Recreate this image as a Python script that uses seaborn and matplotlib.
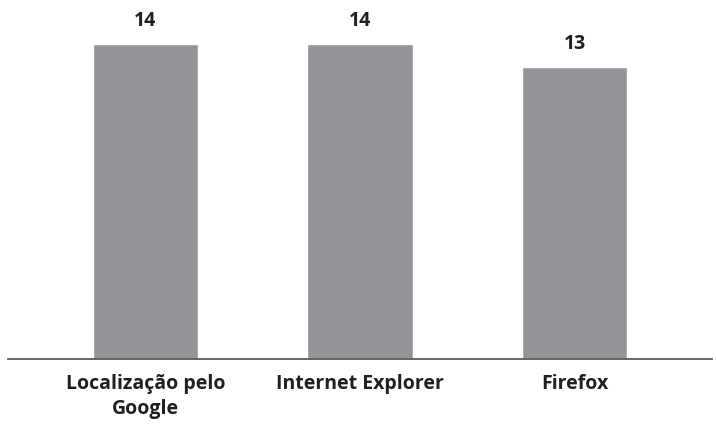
import matplotlib
matplotlib.use("Agg")
import matplotlib.pyplot as plt
import seaborn as sns
import pandas as pd

categories = ["Localização pelo\nGoogle", "Internet Explorer", "Firefox"]
values = [14, 14, 13]

df = pd.DataFrame({"categoria": categories, "valor": values})

sns.set_theme(style="white")
plt.rcParams["font.family"] = ["Open Sans", "DejaVu Sans"]

fig = plt.figure(figsize=(7.16, 4.27), dpi=100)
ax = fig.add_axes([8 / 716, (427 - 360) / 427, 704 / 716, 360 / 427])

sns.barplot(data=df, x="categoria", y="valor", color="#939598",
            saturation=1, width=0.49, ax=ax)

ax.set_xlim(-0.641, 2.641)
ax.set_ylim(0, 16)

for i, v in enumerate(values):
    ax.text(i, v + 0.6, f"{v}", ha="center", va="bottom",
            fontsize=14, fontweight="bold", color="#231f20")

ax.set_xlabel("")
ax.set_ylabel("")
ax.set_yticks([])
ax.tick_params(axis="x", length=0, pad=10)
for lbl in ax.get_xticklabels():
    lbl.set_fontsize(14)
    lbl.set_fontweight("bold")
    lbl.set_color("#231f20")
    lbl.set_linespacing(1.35)

for side in ["top", "right", "left"]:
    ax.spines[side].set_visible(False)
ax.spines["bottom"].set_color("#595959")
ax.spines["bottom"].set_linewidth(1.3)

fig.savefig("out.png", dpi=100, facecolor="white")
